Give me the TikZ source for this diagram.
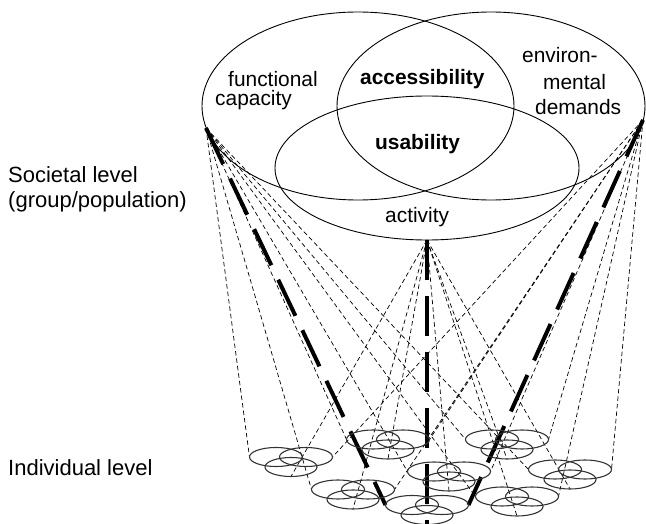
\documentclass[tikz,border=0pt]{standalone}
\usepackage{fontspec}
\setmainfont{Liberation Sans}
\begin{document}
\begin{tikzpicture}[x=1pt,y=-1pt,
  big/.style={line width=0.9pt},
  small/.style={line width=1.1pt, draw=black!80},
  thinline/.style={dash pattern=on 4.5pt off 3pt, line width=0.7pt},
  thickline/.style={dash pattern=on 40pt off 16pt, line width=4pt},
  lbl/.style={anchor=base west, inner sep=0pt, font=\fontsize{20.9}{24}\selectfont},
  blbl/.style={lbl, font=\fontsize{20.9}{24}\selectfont\bfseries},
  side/.style={anchor=base west, inner sep=0pt, font=\fontsize{22}{25}\selectfont}]
\useasboundingbox (0,0) rectangle (646,524);

% apex points on the societal-level diagram
\coordinate (La) at (206,128);
\coordinate (Ca) at (427,240);
\coordinate (Ra) at (643,120);

% individual-level clusters: name / centre x / centre y
\foreach \n/\cx/\cy in {1/291/457, 2/388/439.5, 3/449/471.5, 4/507/439.5,
                        5/570/469.5, 6/353/489.5, 7/427/505, 8/517/496.5}{
  \coordinate (k\n L) at (\cx-41.5,\cy);
  \coordinate (k\n R) at (\cx+41.5,\cy);
  \coordinate (k\n C) at (\cx,\cy+19.5);
}

% thin dashed connectors
\foreach \n in {1,2,3,4,5,6,8}{
  \draw[thinline] (La) -- (k\n L);
  \draw[thinline] (Ca) -- (k\n C);
  \draw[thinline] (Ra) -- (k\n R);
}
% thick dashed connectors
\draw[thickline] (La) -- (k7L);
\draw[thickline] (Ca) -- (k7C);
\draw[thickline] (Ra) -- (k7R);

% small ellipse clusters
\foreach \n/\cx/\cy in {1/291/457, 2/388/439.5, 3/449/471.5, 4/507/439.5,
                        5/570/469.5, 6/353/489.5, 7/427/505, 8/517/496.5}{
  \draw[small] (\cx-15,\cy) ellipse [x radius=26.5, y radius=9.5];
  \draw[small] (\cx+15,\cy) ellipse [x radius=26.5, y radius=9.5];
  \draw[small] (\cx,\cy+10) ellipse [x radius=26, y radius=9.5];
}

% big ellipses
\draw[big] (358,106) ellipse [x radius=156, y radius=94];
\draw[big] (491,106) ellipse [x radius=154, y radius=94];
\draw[big] (427,168) ellipse [x radius=152, y radius=72];

% labels
\node[lbl] (fc1) at (228,87) {functional};
\node[lbl] (fc2) at (215,106) {capacity};
\node[blbl] (acc) at (360,85) {accessibility};
\node[blbl] (usa) at (375,150) {usability};
\node[lbl] (env1) at (522,63) {environ-};
\node[lbl] (env2) at (543,90) {mental};
\node[lbl] (env3) at (535,115) {demands};
\node[lbl] (act) at (385,223) {activity};
\node[side] (soc1) at (8,183) {Societal level};
\node[side] (soc2) at (8,208) {(group/population)};
\node[side] (ind) at (8,475) {Individual level};
\end{tikzpicture}
\end{document}
